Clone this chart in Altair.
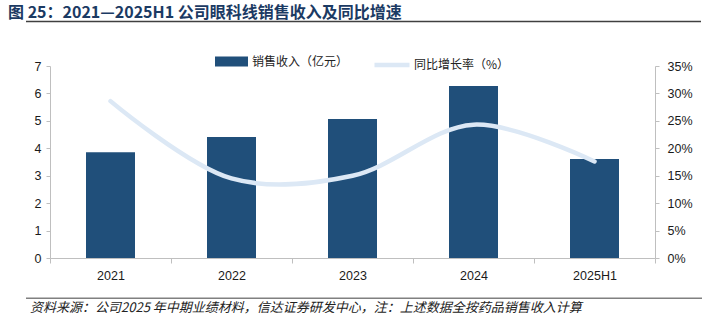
import altair as alt
import pandas as pd

years = ["2021", "2022", "2023", "2024", "2025H1"]
revenue = [3.86, 4.41, 5.07, 6.27, 3.61]
growth = [0.286, 0.145, 0.150, 0.243, 0.176]

title_text = "图 25：2021—2025H1 公司眼科线销售收入及同比增速"
source_text = "资料来源：公司2025 年中期业绩材料，信达证券研发中心，注：上述数据全按药品销售收入计算"
bar_name = "销售收入（亿元）"
line_name = "同比增长率（%）"

df = pd.DataFrame({"year": years, "revenue": revenue, "growth": growth,
                   "s1": bar_name, "s2": line_name})

FONT = "Liberation Sans, Arial, Noto Sans CJK SC"
CJK = "Noto Sans CJK SC"
W, H = 605, 192

xenc = alt.X("year:N", sort=years, title=None,
             scale=alt.Scale(paddingInner=0, paddingOuter=0),
             axis=alt.Axis(labelAngle=0, tickBand="extent", domainColor="#BFBFBF",
                           tickColor="#BFBFBF", tickSize=5, labelFont=FONT,
                           labelFontSize=12.5, labelColor="#1a1a1a", labelPadding=6))

bars = alt.Chart(df).mark_bar(size=49).encode(
    x=xenc,
    y=alt.Y("revenue:Q", title=None,
            scale=alt.Scale(domain=[0, 7], nice=False),
            axis=alt.Axis(values=[0, 1, 2, 3, 4, 5, 6, 7], grid=False, domainColor="#BFBFBF",
                          tickColor="#BFBFBF", tickSize=4, labelFont=FONT,
                          labelFontSize=12.5, labelColor="#1a1a1a", labelPadding=5)),
    color=alt.Color("s1:N", title=None,
                    scale=alt.Scale(domain=[bar_name], range=["#204F7A"]),
                    legend=alt.Legend(orient="none", legendX=165, legendY=-21,
                                      symbolType="M-1,-0.3H1V0.3H-1Z", symbolSize=1089,
                                      symbolStrokeWidth=0, symbolOpacity=1,
                                      labelFont=CJK, labelFontSize=12, labelColor="#222",
                                      padding=0, labelOffset=4)),
)

line = alt.Chart(df).mark_line(interpolate="catmull-rom", strokeWidth=4.5, strokeCap="round").encode(
    x=alt.X("year:N", sort=years),
    y=alt.Y("growth:Q", title=None,
            scale=alt.Scale(domain=[0, 0.35], nice=False),
            axis=alt.Axis(orient="right", values=[0, 0.05, 0.1, 0.15, 0.2, 0.25, 0.3, 0.35],
                          format=".0%", grid=False, domainColor="#BFBFBF",
                          tickColor="#BFBFBF", tickSize=4, labelFont=FONT,
                          labelFontSize=12.5, labelColor="#1a1a1a", labelPadding=8)),
    stroke=alt.Stroke("s2:N", title=None,
                      scale=alt.Scale(domain=[line_name], range=["#DCE8F5"]),
                      legend=alt.Legend(orient="none", legendX=322, legendY=-21,
                                        symbolType="stroke", symbolSize=1225,
                                        symbolStrokeWidth=4.5,
                                        labelFont=CJK, labelFontSize=12, labelColor="#222",
                                        padding=0, labelOffset=2)),
)

tdf = pd.DataFrame({"t": [title_text]})
title = alt.Chart(tdf).mark_text(align="left", baseline="middle", font=CJK, fontSize=16,
                                 fontWeight="bold", color="#1B3A63").encode(
    text="t:N", x=alt.value(-42), y=alt.value(-53))
title_rule = alt.Chart(tdf).mark_rule(color="#404040", strokeWidth=1.5).encode(
    x=alt.value(-24), x2=alt.value(651), y=alt.value(-44.5))

sdf = pd.DataFrame({"t": [source_text]})
source = alt.Chart(sdf).mark_text(align="left", baseline="middle", font=CJK, fontSize=13,
                                  fontStyle="italic", color="#222").encode(
    text="t:N", x=alt.value(-20), y=alt.value(241.5))
source_rule = alt.Chart(sdf).mark_rule(color="#808080", strokeWidth=1.5).encode(
    x=alt.value(-24), x2=alt.value(652), y=alt.value(232.3))

chart = alt.layer(bars, line, title, title_rule, source, source_rule).resolve_scale(
    y="independent"
).properties(
    width=W, height=H,
    autosize=alt.AutoSizeParams(type="none"),
    padding={"left": 50, "top": 66, "right": 62, "bottom": 71},
).configure_view(stroke=None).configure_axis(labelFont=FONT)

chart.save("out.html", embed_options={"renderer": "svg", "actions": False})
